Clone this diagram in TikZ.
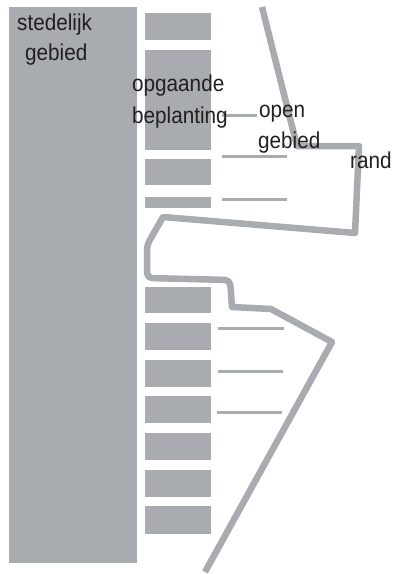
\documentclass[tikz,border=0pt]{standalone}
\usepackage{fontspec}
\setmainfont[FakeStretch=0.9]{Liberation Sans}
\definecolor{zonegray}{HTML}{A8ABAF}
\definecolor{inkgray}{HTML}{231F20}
\begin{document}
\begin{tikzpicture}[x=1pt,y=-1pt,
  zone/.style={fill=zonegray,draw=none},
  thinline/.style={draw=zonegray,line width=3pt},
  randline/.style={draw=zonegray,line width=6.5pt,line join=round,line cap=butt},
  lbl/.style={anchor=base west,inner sep=0pt,text=inkgray,font=\fontsize{23}{32}\selectfont}]
\useasboundingbox (0,0) rectangle (396,574);
% stedelijk gebied
\path[zone] (9,7) rectangle (137,563);
% opgaande beplanting blocks
\foreach \a/\b in {13/40,50/150,159/185,197/208,287/313,323/350,360/387,396/423,433/460,470/497,506/534}
  \path[zone] (145,\a) rectangle (211,\b);
% open gebied lines
\draw[thinline] (222,115) -- (257,115);
\draw[thinline] (222,156) -- (287,156);
\draw[thinline] (222,199) -- (287,199);
\draw[thinline] (218,328) -- (284,328);
\draw[thinline] (218,371) -- (283,371);
\draw[thinline] (217,412) -- (282,412);
% rand
\draw[randline] (262,7) -- (297,146) -- (359,146) -- (355,233) -- (163,217)
  [rounded corners=5pt] -- (147,245) -- (147,278) -- (230,280)
  [sharp corners] -- (232,307) -- (271,309) -- (332,342) -- (205,572);
% labels
\node[lbl] (t1) at (17,30) {stedelijk};
\node[lbl] (t2) at (25,60) {gebied};
\node[lbl] (t3) at (132,91) {opgaande};
\node[lbl] (t4) at (132,123) {beplanting};
\node[lbl] (t5) at (259,117) {open};
\node[lbl] (t6) at (258,148) {gebied};
\node[lbl] (t7) at (350,168) {rand};
\end{tikzpicture}
\end{document}
